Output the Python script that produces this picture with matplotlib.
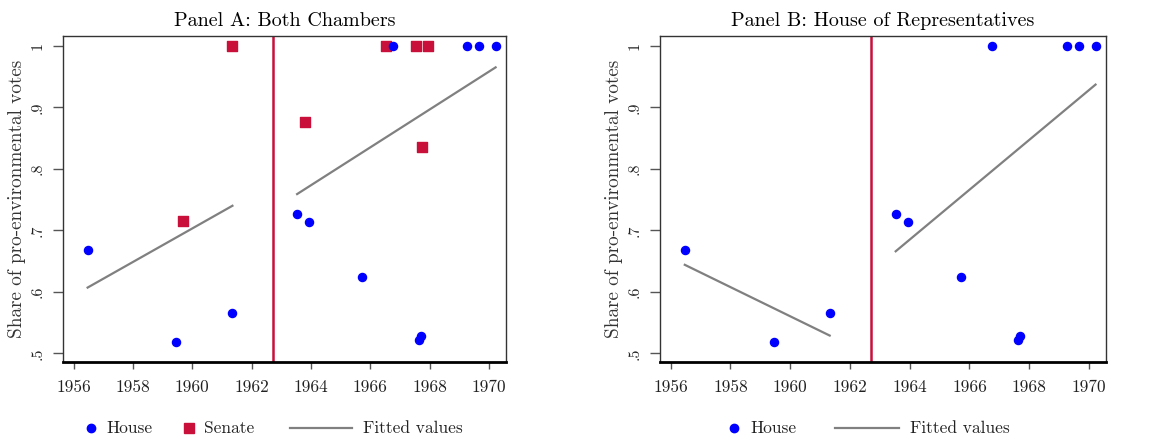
import numpy as np
import matplotlib
matplotlib.use("Agg")
import matplotlib.pyplot as plt

plt.rcParams["font.family"] = ["cmr10", "DejaVu Serif"]
plt.rcParams["axes.formatter.use_mathtext"] = True

# House votes (year of vote, share pro-environmental)
house_year = [1956.47, 1959.45, 1961.32, 1963.53, 1963.94, 1965.72, 1967.63,
              1967.70, 1966.77, 1969.26, 1969.66, 1970.22]
house_share = [0.668, 0.518, 0.566, 0.726, 0.713, 0.625, 0.521,
               0.528, 1.0, 0.999, 1.0, 1.0]

# Senate votes
senate_year = [1959.68, 1961.35, 1963.78, 1966.52, 1967.53, 1967.94, 1967.74]
senate_share = [0.716, 1.0, 0.876, 1.0, 1.0, 1.0, 0.836]

# fitted values, before / after the cutoff
fitA_pre_x, fitA_pre_y = [1956.47, 1961.35], [0.607, 0.740]
fitA_post_x, fitA_post_y = [1963.53, 1970.22], [0.759, 0.965]
fitB_pre_x, fitB_pre_y = [1956.47, 1961.32], [0.644, 0.529]
fitB_post_x, fitB_post_y = [1963.53, 1970.22], [0.666, 0.937]

cutoff = 1962.72

yticks = [0.5, 0.6, 0.7, 0.8, 0.9, 1.0]
ytick_labels = [".5", ".6", ".7", ".8", ".9", "1"]
xticks = [1956, 1958, 1960, 1962, 1964, 1966, 1968, 1970]

BLUE = "#0000FF"
RED = "#C8103A"
GRAY = "#808080"
W, H = 1164, 442

fig = plt.figure(figsize=(W / 100, H / 100), dpi=100)
axA = fig.add_axes([63 / W, 1 - 362 / H, 443 / W, 326 / H])
axB = fig.add_axes([660 / W, 1 - 362 / H, 446 / W, 326 / H])


def style(ax, title):
    ax.set_xlim(1955.64, 1970.57)
    ax.set_ylim(0.486, 1.016)
    ax.set_xticks(xticks)
    ax.set_xticklabels([str(t) for t in xticks], fontsize=12.5, color="#222222")
    ax.set_yticks(yticks)
    ax.set_yticklabels(ytick_labels, fontsize=11.5, rotation=90, va="center",
                       color="#222222")
    ax.tick_params(axis="x", length=5, width=1, color="#555555", pad=8)
    ax.tick_params(axis="y", length=7, width=1, color="#555555", pad=6)
    ax.spines["bottom"].set_linewidth(2)
    ax.spines["bottom"].set_color("black")
    for s in ["top", "right", "left"]:
        ax.spines[s].set_linewidth(1)
        ax.spines[s].set_color("#333333")
    ax.set_ylabel("Share of pro-environmental votes", fontsize=13.8,
                  color="#333333", labelpad=4)
    ax.set_title(title, fontsize=14.5, pad=7)
    ax.axvline(cutoff, color=RED, lw=1.8, zorder=1)


def legend_item(kind, x0, text_x, label, color):
    # x positions in figure pixels, legend row at fixed height
    y = 1 - 428 / H
    if kind == "line":
        fig.add_artist(plt.Line2D([x0[0] / W, x0[1] / W], [y, y],
                                  transform=fig.transFigure, color=color, lw=1.6))
    else:
        m = "o" if kind == "circle" else "s"
        ms = 6 if kind == "circle" else 7
        fig.add_artist(plt.Line2D([x0 / W], [y], transform=fig.transFigure,
                                  marker=m, ls="", color=color, markersize=ms))
    fig.text(text_x / W, y, label, fontsize=12.5, va="center", ha="left",
             color="#222222")


# Panel A
style(axA, "Panel A: Both Chambers")
axA.plot(fitA_pre_x, fitA_pre_y, color=GRAY, lw=1.6, zorder=2)
axA.plot(fitA_post_x, fitA_post_y, color=GRAY, lw=1.6, zorder=2)
axA.scatter(senate_year, senate_share, marker="s", s=48, color=RED, zorder=3)
axA.scatter(house_year, house_share, marker="o", s=34, color=BLUE, zorder=4)
legend_item("circle", 91, 106, "House", BLUE)
legend_item("square", 189, 204, "Senate", RED)
legend_item("line", (290, 352), 363, "Fitted values", GRAY)

# Panel B
style(axB, "Panel B: House of Representatives")
axB.plot(fitB_pre_x, fitB_pre_y, color=GRAY, lw=1.6, zorder=2)
axB.plot(fitB_post_x, fitB_post_y, color=GRAY, lw=1.6, zorder=2)
axB.scatter(house_year, house_share, marker="o", s=34, color=BLUE, zorder=4)
legend_item("circle", 734, 750, "House", BLUE)
legend_item("line", (835, 899), 910, "Fitted values", GRAY)

fig.savefig("out.png", dpi=100)
